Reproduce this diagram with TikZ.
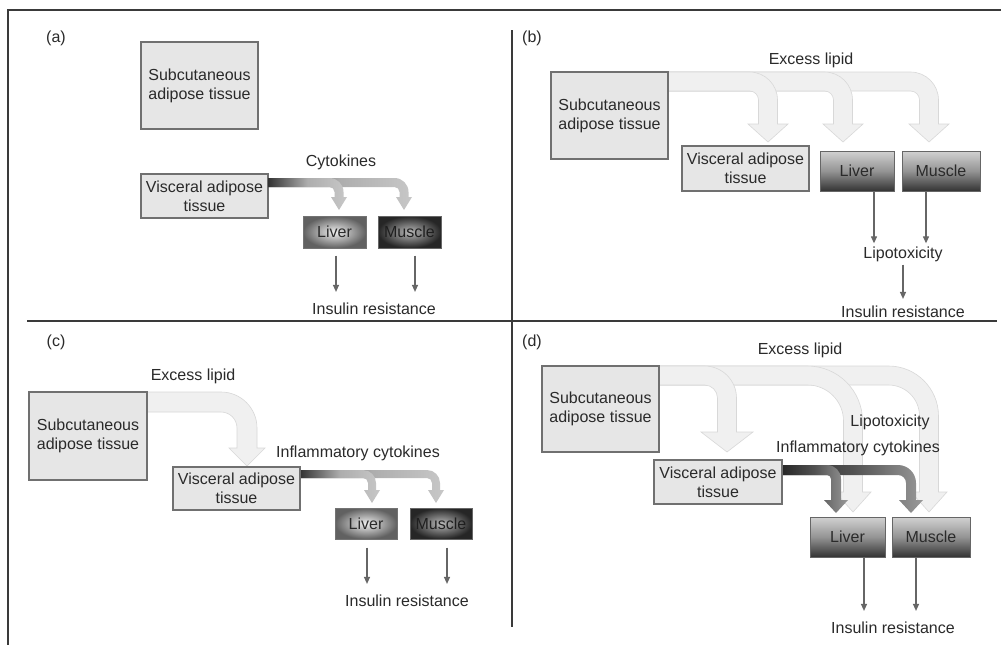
\documentclass[tikz,border=0pt]{standalone}
\usepackage{fontspec}
\setmainfont{Liberation Sans}
\usetikzlibrary{arrows.meta,shadows}
\definecolor{txt}{HTML}{2A2A2A}
\definecolor{boxedge}{HTML}{707070}
\definecolor{boxfill}{HTML}{E6E6E6}
\definecolor{framec}{HTML}{3A3A3A}
\definecolor{lightfill}{HTML}{F0F0F0}
\definecolor{lightedge}{HTML}{D8D8D8}
\definecolor{thinc}{HTML}{666666}
% fat arrow: style, x0, ytop, width, xcentre, radius, yhead, halfhead, ytip
\newcommand{\fatarrow}[9]{\path[#1] ({#2},{#3}) -- ({#5+#4/2-#6},{#3}) .. controls ({#5+#4/2-0.448*#6},{#3}) and ({#5+#4/2},{#3+0.448*#6}) .. ({#5+#4/2},{#3+#6}) -- ({#5+#4/2},{#7}) -- ({#5+#8},{#7}) -- ({#5},{#9}) -- ({#5-#8},{#7}) -- ({#5-#4/2},{#7}) -- ({#5-#4/2},{#3+#6}) .. controls ({#5-#4/2},{#3+#4+0.448*(#6-#4)}) and ({#5-#4/2-0.448*(#6-#4)},{#3+#4}) .. ({#5-#4/2-#6+#4},{#3+#4}) -- ({#2},{#3+#4}) -- cycle;}
\tikzset{
  base/.style={font=\fontsize{16}{19}\selectfont, text=txt, align=center, inner sep=1pt},
  softbox/.style={base, inner sep=0pt, draw=boxedge, fill=boxfill, line width=1.2pt,
    drop shadow={shadow xshift=1.2pt, shadow yshift=-1.2pt, fill=black!35, opacity=0.5}},
  liverR/.style={base, inner sep=0pt, draw=black!55, line width=1pt, inner color=black!6, outer color=black!62,
    drop shadow={shadow xshift=1.2pt, shadow yshift=-1.2pt, fill=black!35, opacity=0.5}},
  muscleR/.style={base, inner sep=0pt, draw=black!60, line width=1pt, text=black!88, inner color=black!28, outer color=black!85,
    drop shadow={shadow xshift=1.2pt, shadow yshift=-1.2pt, fill=black!35, opacity=0.5}},
  organL/.style={base, inner sep=0pt, draw=black!60, line width=1pt, top color=black!18, bottom color=black!80, middle color=black!42,
    drop shadow={shadow xshift=1.2pt, shadow yshift=-1.2pt, fill=black!35, opacity=0.5}},
  lightarrow/.style={fill=lightfill, draw=lightedge, line width=0.6pt},
  cytoarrow/.style={shade, left color=black!80, right color=black!22, middle color=black!32},
  cytodark/.style={shade, left color=black!85, right color=black!40, middle color=black!68},
  thinarrow/.style={draw=thinc, line width=1.2pt, -{Triangle[length=7pt,width=6pt]}},
  frameline/.style={draw=framec, line width=1.5pt}
}
\begin{document}
\begin{tikzpicture}[x=1pt,y=-1pt]
\useasboundingbox (0,0) rectangle (1002,645);
\fill[white] (0,0) rectangle (1002,645);
% frame
\draw[frameline] (8,645) -- (8,10) -- (1001,10);
\draw[frameline] (512,30) -- (512,627);
\draw[frameline] (27,321) -- (997,321);

% ---------------- (a)
\node[base] (labA) at (56,38) {(a)};
\node[softbox, minimum width=117pt, minimum height=87pt] (subA) at (199.5,85.5) {Subcutaneous\\adipose tissue};
\node[softbox, minimum width=127pt, minimum height=44pt] (visA) at (204.5,196) {Visceral adipose\\tissue};
\fatarrow{cytoarrow}{268}{178}{9}{404}{14}{197}{8}{210}
\fatarrow{cytoarrow}{268}{178}{9}{339}{14}{197}{8}{210}
\node[liverR, minimum width=63pt, minimum height=32pt] (livA) at (334.5,232) {Liver};
\node[muscleR, minimum width=63pt, minimum height=32pt] (musA) at (409.5,232) {Muscle};
\node[base] (cytA) at (341,162) {Cytokines};
\node[base] (irA) at (374,309) {Insulin resistance};
\draw[thinarrow, shorten >=10pt] ([xshift=1.5pt,yshift=-7pt]livA.south) -- ([xshift=1.5pt]livA.south |- irA.north);
\draw[thinarrow, shorten >=10pt] ([xshift=5.5pt,yshift=-7pt]musA.south) -- ([xshift=5.5pt]musA.south |- irA.north);

% ---------------- (b)
\node[base] (labB) at (532,38) {(b)};
\fatarrow{lightarrow}{668}{72}{19}{929}{28}{124}{20}{142}
\fatarrow{lightarrow}{668}{72}{19}{843}{28}{124}{20}{142}
\fatarrow{lightarrow}{668}{72}{19}{768}{28}{124}{20}{142}
\node[softbox, minimum width=117pt, minimum height=87pt] (subB) at (609.5,115.5) {Subcutaneous\\adipose tissue};
\node[softbox, minimum width=127pt, minimum height=45pt] (visB) at (745.5,168.5) {Visceral adipose\\tissue};
\node[organL, minimum width=74pt, minimum height=40pt] (livB) at (857,171) {Liver};
\node[organL, minimum width=78pt, minimum height=40pt] (musB) at (941,171) {Muscle};
\node[base] (excB) at (811,60) {Excess lipid};
\node[base] (lipoB) at (903,254) {Lipotoxicity};
\node[base] (irB) at (903,312) {Insulin resistance};
\draw[thinarrow, shorten >=2pt] ([xshift=17pt]livB.south) -- ([xshift=17pt]livB.south |- lipoB.north);
\draw[thinarrow, shorten >=2pt] ([xshift=-15pt]musB.south) -- ([xshift=-15pt]musB.south |- lipoB.north);
\draw[thinarrow, shorten <=2pt, shorten >=6pt] (lipoB.south) -- (irB.north);

% ---------------- (c)
\node[base] (labC) at (56,342) {(c)};
\fatarrow{lightarrow}{147}{392}{20}{247}{36}{448}{18}{466}
\node[softbox, minimum width=118pt, minimum height=88pt] (subC) at (88,436) {Subcutaneous\\adipose tissue};
\fatarrow{cytoarrow}{300}{470}{8}{436}{13}{490}{8}{503}
\fatarrow{cytoarrow}{300}{470}{8}{372}{13}{490}{8}{503}
\node[softbox, minimum width=127pt, minimum height=43pt] (visC) at (236.5,488.5) {Visceral adipose\\tissue};
\node[liverR, minimum width=62pt, minimum height=31pt] (livC) at (366,523.5) {Liver};
\node[muscleR, minimum width=62pt, minimum height=31pt] (musC) at (441,523.5) {Muscle};
\node[base] (excC) at (193,376) {Excess lipid};
\node[base] (inflC) at (358,453) {Inflammatory cytokines};
\node[base] (irC) at (407,601) {Insulin resistance};
\draw[thinarrow, shorten >=10pt] ([xshift=1pt,yshift=-8pt]livC.south) -- ([xshift=1pt]livC.south |- irC.north);
\draw[thinarrow, shorten >=10pt] ([xshift=6pt,yshift=-8pt]musC.south) -- ([xshift=6pt]musC.south |- irC.north);

% ---------------- (d)
\node[base] (labD) at (532,342) {(d)};
\fatarrow{lightarrow}{659}{366}{19}{929}{50}{492}{18}{512}
\fatarrow{lightarrow}{659}{366}{19}{853}{55}{492}{18}{512}
\fatarrow{lightarrow}{659}{366}{19}{727}{32}{432}{26}{452}
\node[softbox, minimum width=117pt, minimum height=86pt] (subD) at (600.5,409) {Subcutaneous\\adipose tissue};
\fatarrow{cytodark}{782}{465}{10}{911}{18}{500}{12}{513}
\fatarrow{cytodark}{782}{465}{10}{836}{14}{500}{12}{513}
\node[softbox, minimum width=128pt, minimum height=44pt] (visD) at (718,482) {Visceral adipose\\tissue};
\node[organL, minimum width=75pt, minimum height=40pt] (livD) at (847.5,537) {Liver};
\node[organL, minimum width=78pt, minimum height=40pt] (musD) at (931,537) {Muscle};
\node[base] (excD) at (800,350) {Excess lipid};
\node[base] (lipoD) at (890,422) {Lipotoxicity};
\node[base] (inflD) at (858,448) {Inflammatory cytokines};
\node[base] (irD) at (893,628) {Insulin resistance};
\draw[thinarrow, shorten >=10pt] ([xshift=16.5pt]livD.south) -- ([xshift=16.5pt]livD.south |- irD.north);
\draw[thinarrow, shorten >=10pt] ([xshift=-15pt]musD.south) -- ([xshift=-15pt]musD.south |- irD.north);
\end{tikzpicture}
\end{document}
